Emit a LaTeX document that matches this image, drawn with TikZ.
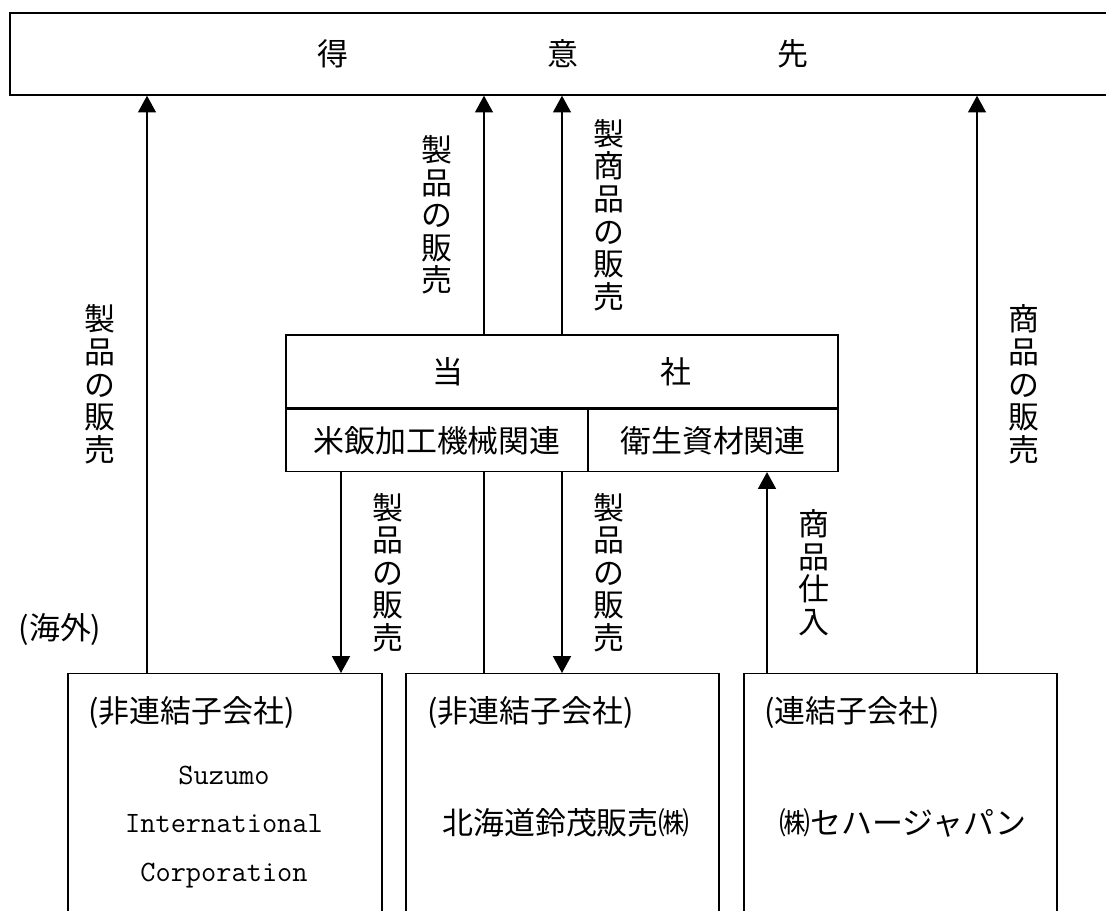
\documentclass[tikz,border=0pt]{standalone}
\usepackage{fontspec}
\setmainfont{Noto Sans CJK JP}
\usetikzlibrary{arrows.meta}

\tikzset{
  box/.style={draw, line width=1pt, inner sep=0pt},
  lbl/.style={align=center, inner sep=0pt, font=\fontsize{22}{23.2}\selectfont},
  arr/.style={-{Triangle[length=4.2mm,width=4.5mm]}},
  link/.style={-},
}

\begin{document}
\begin{tikzpicture}[font=\fontsize{22}{26}\selectfont]
\useasboundingbox (0,0) rectangle (27.65,22.775);
\clip (0,0) rectangle (27.65,22.775);

% customers
\node[box, minimum width=27.65cm, minimum height=2.05cm] (P0) at (14.075,21.425) {得\hspace{4.98cm}意\hspace{4.98cm}先};

% the company
\node[box, minimum width=13.8cm, minimum height=1.825cm] (P1) at (14.05,13.4875) {当\hspace{4.93cm}社};
\node[box, anchor=north west, minimum width=7.55cm, minimum height=1.55cm] (P2) at (P1.south west) {米飯加工機械関連};
\node[box, anchor=north east, minimum width=6.25cm, minimum height=1.55cm] (P3) at (P1.south east) {衛生資材関連};

% subsidiaries
\node[box, anchor=north, minimum width=7.85cm, minimum height=6.5cm] (P4) at (5.625,5.95) {};
\node[box, anchor=north, minimum width=7.825cm, minimum height=6.5cm] (P5) at (14.0625,5.95) {};
\node[box, anchor=north, minimum width=7.825cm, minimum height=6.5cm] (P6) at (22.5125,5.95) {};

\node[anchor=west, inner sep=0pt] (P7) at (2.2,4.95) {(非連結子会社)};
\node[anchor=west, inner sep=0pt] (P8) at (10.675,4.95) {(非連結子会社)};
\node[anchor=west, inner sep=0pt] (P9) at (19.1,4.95) {(連結子会社)};

\node[align=center, font=\ttfamily\fontsize{21}{34.5}\selectfont] (P10) at (5.6,2.1) {Suzumo\\International\\Corporation};
\node (P11) at (14.15,2.2) {北海道鈴茂販売㈱};
\node (P12) at (22.575,2.2) {㈱セハージャパン};

\node (P13) at (1.5,7.025) {(海外)};

% x of the connectors
\coordinate (X1) at (3.675,0);
\coordinate (X2) at (8.525,0);
\coordinate (X3) at (12.1,0);
\coordinate (X4) at (14.05,0);
\coordinate (X5) at (19.175,0);
\coordinate (X6) at (24.425,0);

\path[line width=1pt]

% Suzumo to customers
(P4.north -| X1) edge[arr] node[lbl, left=0.78cm] {製\\品\\の\\販\\売} (P0.south -| X1)

% company to customers
(P1.north -| X3) edge[arr] node[lbl, left=0.78cm] {製\\品\\の\\販\\売} (P0.south -| X3)
(P1.north -| X4) edge[arr] node[lbl, right=0.78cm] {製\\商\\品\\の\\販\\売} (P0.south -| X4)

% Sehaa Japan to customers
(P6.north -| X6) edge[arr] node[lbl, right=0.78cm] {商\\品\\の\\販\\売} (P0.south -| X6)

% company to Suzumo
(P2.south -| X2) edge[arr] node[lbl, right=0.78cm] {製\\品\\の\\販\\売} (P4.north -| X2)

% company to Hokkaido
(P2.south -| X3) edge[link] (P5.north -| X3)
(P2.south -| X4) edge[arr] node[lbl, right=0.78cm] {製\\品\\の\\販\\売} (P5.north -| X4)

% Sehaa Japan to company
(P6.north -| X5) edge[arr] node[lbl, right=0.78cm] {商\\品\\仕\\入} (P3.south -| X5);

\end{tikzpicture}
\end{document}
